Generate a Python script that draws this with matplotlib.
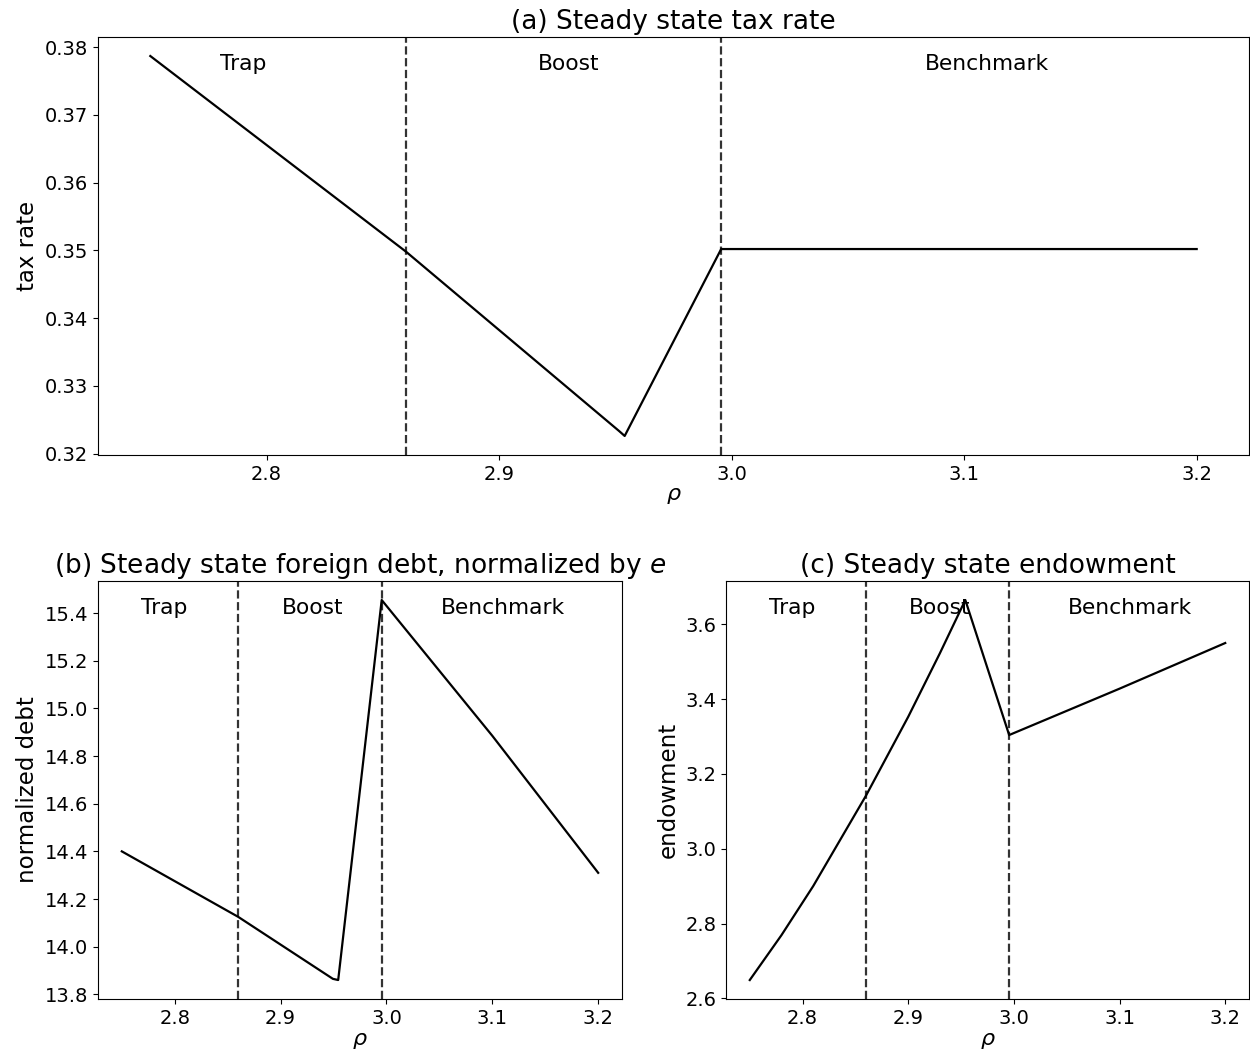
import matplotlib
matplotlib.use("Agg")
import matplotlib.pyplot as plt

# 横軸 rho と各系列
rho_tax = [2.75, 2.86, 2.9517, 2.954, 2.9955, 3.10, 3.20]
tax_rate = [0.3787, 0.3498, 0.3233, 0.3226, 0.3502, 0.3502, 0.3502]

rho_debt = [2.75, 2.86, 2.9494, 2.9544, 2.9955, 3.10, 3.20]
norm_debt = [14.40, 14.125, 13.865, 13.86, 15.455, 14.885, 14.31]

rho_endow = [2.75, 2.78, 2.81, 2.86, 2.90, 2.93, 2.954, 2.9955, 3.10, 3.20]
endowment = [2.649, 2.769, 2.900, 3.142, 3.353, 3.523, 3.665, 3.304, 3.428, 3.550]

# 領域の境界と名前
cutoffs = [2.86, 2.9955]
regions = ["Trap", "Boost", "Benchmark"]
label_x = [2.79, 2.93, 3.11]

fig = plt.figure(figsize=(12.5, 10.61), dpi=100)
ax1 = fig.add_axes([0.0784, 0.5712, 0.9208, 0.3939])
ax2 = fig.add_axes([0.0784, 0.0584, 0.4192, 0.3940])
ax3 = fig.add_axes([0.5808, 0.0584, 0.4184, 0.3940])


def draw(ax, x, y, title, ylabel):
    ax.plot(x, y, color="k", lw=1.6)
    for c in cutoffs:
        ax.axvline(c, color="k", ls="--", lw=1.6, alpha=0.8)
    for name, lx in zip(regions, label_x):
        ax.text(lx, 0.935, name, ha="center", va="center", fontsize=15.7,
                transform=ax.get_xaxis_transform())
    ax.set_title(title, fontsize=19, pad=6)
    ax.set_ylabel(ylabel, fontsize=16.5)
    ax.set_xlabel(r"$\rho$", fontsize=16, labelpad=2)
    ax.tick_params(labelsize=14)


draw(ax1, rho_tax, tax_rate, "(a) Steady state tax rate", "tax rate")
draw(ax2, rho_debt, norm_debt, r"(b) Steady state foreign debt, normalized by $e$",
     "normalized debt")
draw(ax3, rho_endow, endowment, "(c) Steady state endowment", "endowment")

fig.savefig("out.png", dpi=100)
